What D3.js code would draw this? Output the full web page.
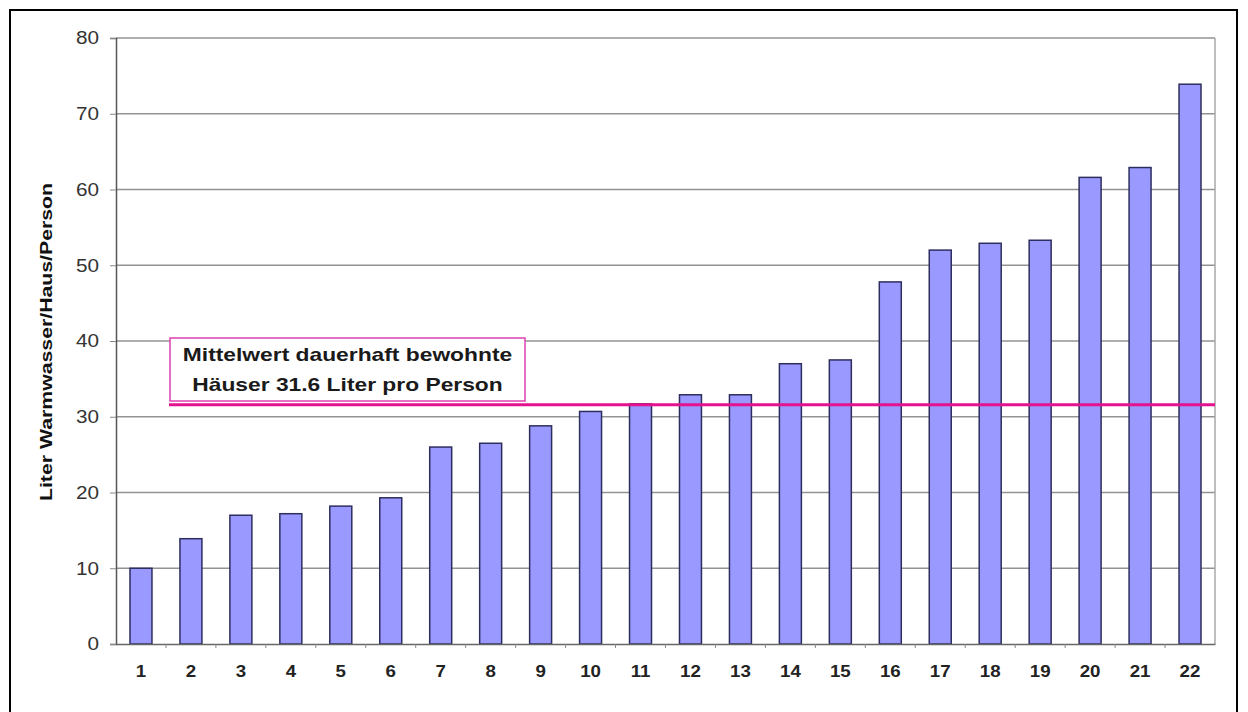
<!DOCTYPE html>
<html>
<head>
<meta charset="utf-8">
<script src="https://cdn.jsdelivr.net/npm/d3@7"></script>
<style>
  html, body { margin: 0; padding: 0; background: #fff; }
  svg { display: block; }
</style>
</head>
<body>
<svg id="chart" width="1248" height="712"></svg>
<script>
// Houses (numbered) and daily hot water use per person in each
const houses = ["1","2","3","4","5","6","7","8","9","10","11","12","13","14","15","16","17","18","19","20","21","22"];
const litersPerPerson = [10.0, 13.9, 17.0, 17.2, 18.2, 19.3, 26.0, 26.5, 28.8, 30.7, 31.7, 32.9, 32.9, 37.0, 37.5, 47.8, 52.0, 52.9, 53.3, 61.6, 62.9, 73.9];
const yTicks = [0, 10, 20, 30, 40, 50, 60, 70, 80];
const meanValue = 31.6;
const meanLabel = ["Mittelwert dauerhaft bewohnte", "Häuser 31.6 Liter pro Person"];
const yTitle = "Liter Warmwasser/Haus/Person";

const FONT = "Liberation Sans, Arial, sans-serif";
const svg = d3.select("#chart");
const plot = { left: 116, right: 1215, top: 38, bottom: 644 };

// Widen text horizontally by a factor (the chart's type is set a bit wide)
function stretch(sel, factor) {
  sel.each(function () {
    const w = this.getComputedTextLength();
    d3.select(this).attr("textLength", w * factor).attr("lengthAdjust", "spacingAndGlyphs");
  });
}

// Outer frame
svg.append("rect")
  .attr("x", 10).attr("y", 10)
  .attr("width", 1227).attr("height", 712)
  .attr("fill", "#fff").attr("stroke", "#000").attr("stroke-width", 2);

const x = d3.scaleBand().domain(houses).range([plot.left, plot.right]).paddingInner(0.56).paddingOuter(0.28);
const y = d3.scaleLinear().domain([0, 80]).range([plot.bottom, plot.top]);

// Horizontal gridlines
svg.append("g").selectAll("line").data(yTicks.filter(d => d > 0)).join("line")
  .attr("x1", plot.left).attr("x2", plot.right)
  .attr("y1", d => y(d)).attr("y2", d => y(d))
  .attr("stroke", "#939393").attr("stroke-width", 1.6);

// Right edge of plot area
svg.append("line")
  .attr("x1", plot.right).attr("x2", plot.right)
  .attr("y1", plot.top).attr("y2", plot.bottom)
  .attr("stroke", "#a8a8a8").attr("stroke-width", 1.5);

// Bars
svg.append("g").selectAll("rect").data(litersPerPerson).join("rect")
  .attr("x", (d, i) => x(houses[i]))
  .attr("y", d => y(d))
  .attr("width", x.bandwidth())
  .attr("height", d => y(0) - y(d))
  .attr("fill", "#9999ff")
  .attr("stroke", "#2e2e5e")
  .attr("stroke-width", 1.5);

// Y axis
const yAxis = svg.append("g")
  .attr("transform", `translate(${plot.left},0)`)
  .call(d3.axisLeft(y).tickValues(yTicks).tickSize(6).tickPadding(11));
yAxis.select(".domain").attr("stroke", "#555").attr("stroke-width", 1.5);
yAxis.selectAll(".tick line").attr("stroke", "#888");
yAxis.selectAll("text")
  .attr("font-family", FONT)
  .attr("font-size", 18).attr("fill", "#333")
  .call(stretch, 1.15);

// X axis
const xAxis = svg.append("g")
  .attr("transform", `translate(0,${plot.bottom})`)
  .call(d3.axisBottom(x).tickSize(0).tickPadding(21));
xAxis.select(".domain").attr("stroke", "#666").attr("stroke-width", 1.5);
xAxis.selectAll("text")
  .attr("font-family", FONT)
  .attr("font-size", 17).attr("font-weight", "bold").attr("fill", "#222")
  .call(stretch, 1.1);
// Small category separators along the baseline
svg.append("g").selectAll("line").data(houses.slice(1)).join("line")
  .attr("x1", d => x(d) - x.step() * x.paddingInner() / 2)
  .attr("x2", d => x(d) - x.step() * x.paddingInner() / 2)
  .attr("y1", plot.bottom).attr("y2", plot.bottom + 4)
  .attr("stroke", "#888");

// Y axis title
svg.append("text")
  .attr("transform", `translate(52,${(plot.top + plot.bottom) / 2 + 1}) rotate(-90)`)
  .attr("text-anchor", "middle")
  .attr("font-family", FONT)
  .attr("font-size", 17).attr("font-weight", "bold").attr("fill", "#111")
  .text(yTitle)
  .call(stretch, 1.25);

// Mean line
svg.append("line")
  .attr("x1", 169).attr("x2", plot.right)
  .attr("y1", y(meanValue)).attr("y2", y(meanValue))
  .attr("stroke", "#e5128f").attr("stroke-width", 3);

// Mean label box
const box = { x: 170, y: 338, w: 355, h: 63 };
svg.append("rect")
  .attr("x", box.x).attr("y", box.y)
  .attr("width", box.w).attr("height", box.h)
  .attr("fill", "#fff").attr("stroke", "#e040b0").attr("stroke-width", 1.5);
svg.append("g").selectAll("text").data(meanLabel).join("text")
  .attr("x", box.x + box.w / 2)
  .attr("y", (d, i) => box.y + 23 + i * 30)
  .attr("text-anchor", "middle")
  .attr("font-family", FONT)
  .attr("font-size", 19).attr("font-weight", "bold").attr("fill", "#1a1a1a")
  .text(d => d)
  .call(stretch, 1.2);
</script>
</body>
</html>
